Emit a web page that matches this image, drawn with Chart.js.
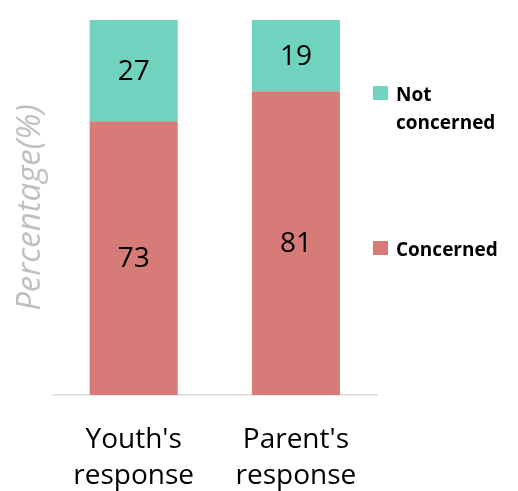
<!DOCTYPE html>
<html>
<head>
<meta charset="utf-8">
<script src="https://cdn.jsdelivr.net/npm/chart.js@4"></script>
<style>
  html, body { margin: 0; padding: 0; background: #fff; overflow: hidden; }
  #wrap { width: 518px; height: 503px; }
</style>
</head>
<body>
<div id="wrap"><canvas id="graph"></canvas></div>
<script>
const categories = [["Youth's", "response"], ["Parent's", "response"]];
const concerned = [73, 81];
const notConcerned = [27, 19];
const seriesNames = ['Concerned', ['Not', 'concerned']];

const FONT = "'Open Sans', sans-serif";

// value printed in the middle of each stacked segment
const segmentLabels = {
  id: 'segmentLabels',
  afterDatasetsDraw(chart) {
    const ctx = chart.ctx;
    ctx.save();
    ctx.font = '28px ' + FONT;
    ctx.fillStyle = '#000';
    ctx.textAlign = 'center';
    ctx.textBaseline = 'middle';
    chart.data.datasets.forEach((ds, i) => {
      chart.getDatasetMeta(i).data.forEach((bar, j) => {
        ctx.fillText(ds.data[j], bar.x, (bar.y + bar.base) / 2 + 1);
      });
    });
    ctx.restore();
  }
};

// legend on the right, top series listed first
const sideLegend = {
  id: 'sideLegend',
  afterDraw(chart) {
    const ctx = chart.ctx;
    const tops = [241, 86];
    ctx.save();
    ctx.font = 'bold 19px ' + FONT;
    ctx.textBaseline = 'alphabetic';
    chart.data.datasets.forEach((ds, i) => {
      const top = tops[i];
      ctx.fillStyle = ds.backgroundColor;
      ctx.fillRect(373, top, 15, 14);
      ctx.fillStyle = '#000';
      const lines = [].concat(ds.label);
      lines.forEach((t, k) => ctx.fillText(t, 396, top + 15 + k * 28));
    });
    ctx.restore();
  }
};

const data = {
  labels: categories,
  datasets: [
    { label: seriesNames[0], data: concerned, backgroundColor: '#D77B78' },
    { label: seriesNames[1], data: notConcerned, backgroundColor: '#6FD3C0' }
  ]
};

const config = {
  type: 'bar',
  data: data,
  options: {
    responsive: true,
    maintainAspectRatio: false,
    animation: false,
    layout: { padding: { left: 11, right: 141, top: 20, bottom: -18 } },
    datasets: { bar: { categoryPercentage: 1, barPercentage: 0.543 } },
    plugins: {
      legend: { display: false },
      tooltip: { enabled: false }
    },
    scales: {
      x: {
        stacked: true,
        grid: { display: false, drawTicks: false },
        border: { color: '#d9d9d9', width: 1.5 },
        ticks: { color: '#000', padding: 26, font: { family: FONT, size: 28, lineHeight: 1.32 } }
      },
      y: {
        stacked: true,
        min: 0,
        max: 100,
        grid: { display: false, drawTicks: false },
        border: { display: false },
        ticks: { display: false },
        title: {
          display: true,
          text: 'Percentage(%)',
          color: '#c0c0c0',
          padding: { top: 0, bottom: 2 },
          font: { family: FONT, size: 33, style: 'italic', lineHeight: 1.2 }
        }
      }
    }
  },
  plugins: [segmentLabels, sideLegend]
};

const myChart = new Chart(document.getElementById('graph'), config);
</script>
</body>
</html>
